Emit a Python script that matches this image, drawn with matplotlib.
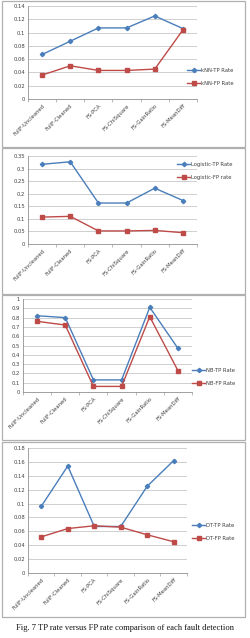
import numpy as np
import matplotlib.pyplot as plt
from matplotlib.patches import Rectangle

categories = ["FullF-Uncleaned", "FullF-Cleaned", "FS-PCA", "FS-ChiSquare",
              "FS-GainRatio", "FS-MeanDiff"]

knn_tp = [0.067, 0.087, 0.107, 0.107, 0.125, 0.106]
knn_fp = [0.036, 0.050, 0.043, 0.043, 0.045, 0.104]

log_tp = [0.317, 0.327, 0.163, 0.163, 0.222, 0.173]
log_fp = [0.107, 0.110, 0.052, 0.052, 0.054, 0.045]

nb_tp = [0.82, 0.80, 0.13, 0.13, 0.91, 0.47]
nb_fp = [0.76, 0.72, 0.06, 0.06, 0.81, 0.23]

dt_tp = [0.096, 0.154, 0.067, 0.067, 0.125, 0.162]
dt_fp = [0.052, 0.064, 0.068, 0.066, 0.055, 0.045]

W, H = 251, 638
fig = plt.figure(figsize=(W / 100, H / 100), dpi=100)

BLUE = "#4a7ebb"
RED = "#be4b48"
GRID = "#c8c8c8"
TXT = "#404040"


def px_rect(x0, y0, x1, y1):
    # pixel box (top-left origin) -> figure fraction
    return [x0 / W, 1 - y1 / H, (x1 - x0) / W, (y1 - y0) / H]


panels = [
    # box, axes box, ymax, ystep, tp, fp, labels, legend pos (x, y center)
    dict(box=(2, 1, 245, 147), ax=(28, 6, 197, 99), ymax=0.14, step=0.02,
         tp=knn_tp, fp=knn_fp, lab=("kNN-TP Rate", "kNN-FP Rate"),
         leg=(187, 77)),
    dict(box=(2, 148, 245, 294), ax=(28, 156, 197, 244), ymax=0.35, step=0.05,
         tp=log_tp, fp=log_fp, lab=("Logistic-TP Rate", "Logistic-FP rate"),
         leg=(177, 171)),
    dict(box=(2, 295, 245, 440), ax=(23, 299, 192, 392), ymax=1.0, step=0.1,
         tp=nb_tp, fp=nb_fp, lab=("NB-TP Rate", "NB-FP Rate"),
         leg=(192, 377)),
    dict(box=(2, 442, 245, 617), ax=(28, 448, 187, 573), ymax=0.18, step=0.02,
         tp=dt_tp, fp=dt_fp, lab=("DT-TP Rate", "DT-FP Rate"),
         leg=(192, 532)),
]

x = np.arange(len(categories))

for p in panels:
    bx = p["box"]
    fig.patches.append(Rectangle((bx[0] / W, 1 - bx[3] / H), (bx[2] - bx[0]) / W,
                                 (bx[3] - bx[1]) / H, transform=fig.transFigure,
                                 fill=False, edgecolor="#b0b0b0", linewidth=0.9))
    ax = fig.add_axes(px_rect(*p["ax"]))
    ax.plot(x, p["tp"], color=BLUE, marker="D", markersize=2.2, linewidth=1.0,
            label=p["lab"][0])
    ax.plot(x, p["fp"], color=RED, marker="s", markersize=3.0, linewidth=1.0,
            label=p["lab"][1])
    ax.set_xlim(-0.5, len(categories) - 0.5)
    ax.set_ylim(0, p["ymax"])
    yt = np.round(np.arange(0, p["ymax"] + p["step"] / 2, p["step"]), 3)
    ax.set_yticks(yt)
    ax.set_yticklabels(["{:g}".format(v) for v in yt])
    ax.yaxis.grid(True, color=GRID, linewidth=0.6)
    ax.set_axisbelow(True)
    ax.set_xticks(x)
    ax.set_xticklabels(categories, rotation=45, ha="right", rotation_mode="anchor")
    ax.set_xticks(np.arange(-0.5, len(categories)), minor=True)
    ax.tick_params(axis="x", which="major", length=0, labelsize=3.8,
                   labelcolor=TXT, pad=3)
    ax.tick_params(axis="x", which="minor", length=2, color="#a0a0a0", width=0.5)
    ax.tick_params(axis="y", length=0, labelsize=3.8, labelcolor=TXT, pad=2)
    for s in ("top", "right"):
        ax.spines[s].set_visible(False)
    ax.spines["left"].set_color("#909090")
    ax.spines["bottom"].set_color("#909090")
    ax.spines["left"].set_linewidth(0.6)
    ax.spines["bottom"].set_linewidth(0.6)
    lx, ly = p["leg"]
    ax.legend(loc="center left", bbox_to_anchor=(lx / W, 1 - ly / H),
              bbox_transform=fig.transFigure, frameon=False, fontsize=3.8,
              labelcolor=TXT, handlelength=2.5, handletextpad=0.2,
              labelspacing=1.6, borderaxespad=0, borderpad=0)

fig.text(0.5, 1 - 628 / H,
         "Fig. 7 TP rate versus FP rate comparison of each fault detection",
         ha="center", va="center", fontsize=6.1, family="Liberation Serif",
         color="#111111")

fig.savefig("out.png", dpi=100, facecolor="white")
